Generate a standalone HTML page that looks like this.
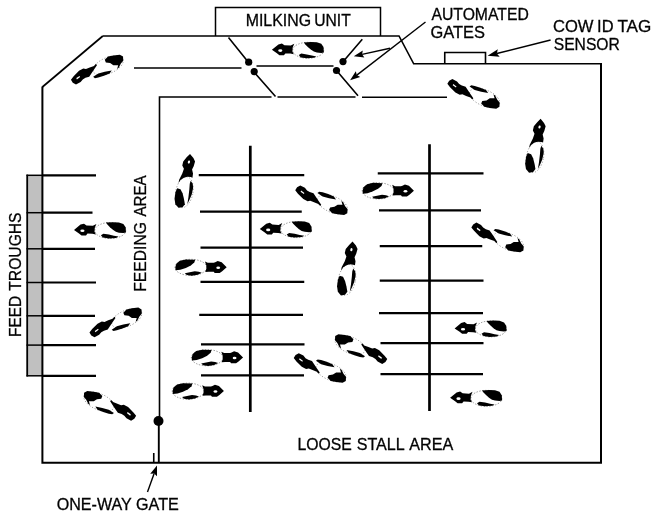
<!DOCTYPE html>
<html><head><meta charset="utf-8"><title>Barn layout</title>
<style>
html,body{margin:0;padding:0;background:#fff;}
svg{display:block}
text{font-family:"Liberation Sans",sans-serif;font-size:16px;fill:#000;stroke:#000;stroke-width:0.3px}
</style></head><body>
<svg width="652" height="515" viewBox="0 0 652 515">
<defs>
<g id="cowH">
 <ellipse cx="36.3" cy="0.5" rx="15.5" ry="8" fill="#fff" stroke="#000" stroke-width="0.6" stroke-dasharray="1.4 1.5" stroke-opacity="0.7"/>
 <path d="M0 0 L6.5 -5.4 L10 -6.3 L12.5 -4.5 L18.9 -4.2 L22.4 -6 L20.8 -2.2 L20.5 1.8 L21.9 4.4 L18.4 3.8 L13.5 3.6 L12 5.4 L7.5 5.4 L5 3.4 Z" fill="#000"/>
 <ellipse cx="8.4" cy="0.8" rx="2.1" ry="1.3" fill="#fff"/>
 <path d="M31.9 -7.4 L38.9 -7.8 L44.9 -7.6 L49.4 -6 L51.6 -2.7 L52 2.6 L49.4 3.1 L44.9 2.7 L41.9 1.8 L38.9 -0.2 L35.9 -2.8 L33.4 -5.4 Z" fill="#000"/>
 <path d="M26.9 5.3 L29.4 3.8 L34.9 4.6 L39.9 5.8 L44.5 6.6 L42 8 L34.9 8.5 L28.9 7.6 Z" fill="#000"/>
</g>
<g id="cowD"><ellipse cx="46.38" cy="23.41" rx="16" ry="8" transform="rotate(-23 46.38 23.41)" fill="#fff" stroke="#000" stroke-width="0.6" stroke-dasharray="1.2 1.8" stroke-opacity="0.6"/><path d="M9.13 37.58 L11.81 34.14 L17.18 28.77 L21.47 26.52 L24.16 27.06 L27.91 25.45 L32.21 23.84 L34.14 21.80 L35.11 23.08 L32.21 27.38 L29.53 31.35 L27.38 34.57 L23.62 35.75 L20.94 37.36 L18.79 39.94 L14.17 42.41 L10.95 40.58 Z" fill="#000"/><path d="M14.49 35.97 L17.72 33.82 L18.25 34.89 L15.03 37.36 Z" fill="#fff"/><path d="M42.95 17.72 L46.17 14.49 L51.54 13.42 L57.98 12.67 L61.20 14.49 L61.41 18.79 L59.05 21.47 L56.90 25.77 L55.29 26.84 L56.37 23.08 L51.54 23.08 L48.31 20.94 L44.02 20.40 Z" fill="#000"/><path d="M31.35 34.79 L36.50 31.35 L42.95 29.63 L49.92 28.34 L47.78 31.35 L42.09 33.71 L36.50 35.43 L33.07 36.07 Z" fill="#000"/></g>
<g id="cowV"><ellipse cx="24.18" cy="47.83" rx="8.6" ry="15.6" transform="rotate(11 24.18 47.83)" fill="#fff" stroke="#000" stroke-width="0.6" stroke-dasharray="1.2 1.8" stroke-opacity="0.6"/><path d="M29.89 9.51 L33.29 13.59 L34.92 16.98 L33.56 21.74 L31.93 25.14 L32.88 29.21 L32.34 33.29 L30.57 32.61 L27.17 32.34 L23.78 33.29 L20.38 35.60 L18.34 38.72 L19.02 35.33 L22.15 29.21 L23.78 24.46 L22.15 21.06 L23.10 16.98 L26.49 12.91 Z" fill="#000"/><ellipse cx="28.80" cy="17.66" rx="1.1" ry="1.6" transform="rotate(15 28.80 17.66)" fill="#fff"/><path d="M16.98 43.75 L20.38 44.84 L22.42 48.91 L23.78 54.35 L24.73 59.78 L22.42 62.77 L18.34 63.45 L15.22 59.78 L14.40 54.35 L15.35 47.55 Z" fill="#000"/><path d="M30.57 36.41 L32.61 39.40 L33.02 43.48 L31.52 50.27 L29.21 55.71 L27.17 59.78 L28.26 52.99 L29.21 44.84 L29.62 39.40 Z" fill="#000"/></g>
<g id="cowR"><ellipse cx="-35.89" cy="0.20" rx="15.8" ry="8.1" fill="#fff" stroke="#000" stroke-width="0.6" stroke-dasharray="1.4 1.5" stroke-opacity="0.7"/><path d="M0.00 0.00 L-4.99 -4.99 L-8.97 -6.18 L-11.47 -4.99 L-12.96 -4.49 L-18.94 -4.49 L-21.73 -5.78 L-20.44 -1.99 L-20.14 1.00 L-21.44 4.79 L-17.95 4.49 L-12.96 4.49 L-11.96 5.78 L-6.98 5.78 L-4.49 3.99 Z" fill="#000"/><ellipse cx="-8.47" cy="0.50" rx="1.9" ry="1.25" fill="#fff"/><path d="M-51.35 0.00 L-50.35 -3.49 L-46.86 -6.48 L-40.88 -7.78 L-31.41 -7.48 L-32.40 -4.69 L-35.89 -1.79 L-40.88 0.70 L-46.36 2.49 L-51.05 2.99 Z" fill="#000"/><path d="M-41.87 5.98 L-36.89 4.99 L-31.90 3.99 L-27.92 4.49 L-24.93 5.48 L-28.91 7.48 L-34.90 8.47 L-39.88 7.78 Z" fill="#000"/></g>
</defs>
<rect width="652" height="515" fill="#fff"/>
<rect x="27.3" y="175.3" width="15.1" height="200.5" fill="#c0c0c0"/>
<g fill="none" stroke="#000" stroke-width="1.6" stroke-linecap="butt">
<path d="M102.8 36 L399 36 L413.7 63.8 L601 63.8" stroke-width="1.6"/>
<path d="M102.8 36 L42.4 87" stroke-width="1.7"/>
<path d="M42.4 86.5 V462.8 H601 V63" stroke-width="2" stroke-linejoin="miter"/>
<path d="M215.5 36 V7.4 H380.5 V36" stroke-width="1.5"/>
<path d="M444.75 63.75 V52.5 H485.5 V63.75"/>
<path d="M134 68 H241.5 M256.5 66 H333.5"/>
<path d="M159.5 420 V97 H271.5 M277.5 97 H355.5 M362 97.3 H447"/>
<path d="M228.5 37.5 L248.2 62 M254 72 L275.5 96.5 M362.3 39.3 L343 61.7 M336.5 70.5 L358 95.8"/>
<path d="M158.8 421 V462" stroke-width="1.9"/><path d="M153.75 453 V462"/>
<path d="M27.2 174.6 V376.5" stroke-width="1.8"/>
<line stroke-width="1.5" x1="26.5" y1="175.3" x2="42.4" y2="175.3"/><line stroke-width="2.2" x1="42.4" y1="175.3" x2="96" y2="175.3"/><line stroke-width="1.5" x1="26.5" y1="212.7" x2="42.4" y2="212.7"/><line stroke-width="2.2" x1="42.4" y1="212.7" x2="92.5" y2="212.7"/><line stroke-width="1.5" x1="26.5" y1="248.8" x2="42.4" y2="248.8"/><line stroke-width="2.2" x1="42.4" y1="248.8" x2="95" y2="248.8"/><line stroke-width="1.5" x1="26.5" y1="282.5" x2="42.4" y2="282.5"/><line stroke-width="2.2" x1="42.4" y1="282.5" x2="96" y2="282.5"/><line stroke-width="1.5" x1="26.5" y1="315.8" x2="42.4" y2="315.8"/><line stroke-width="2.2" x1="42.4" y1="315.8" x2="95" y2="315.8"/><line stroke-width="1.5" x1="26.5" y1="345.1" x2="42.4" y2="345.1"/><line stroke-width="2.2" x1="42.4" y1="345.1" x2="96" y2="345.1"/><line stroke-width="1.5" x1="26.5" y1="375.8" x2="42.4" y2="375.8"/><line stroke-width="2.2" x1="42.4" y1="375.8" x2="96" y2="375.8"/>
</g>
<g fill="none" stroke="#000" stroke-width="2.4">
<path d="M250.3 145.8 V412 M429.5 144.3 V411" stroke-width="2.7"/>
<line x1="198.75" y1="175.1" x2="304.25" y2="175.1"/><line x1="200" y1="211.6" x2="301.75" y2="211.6"/><line x1="200.5" y1="247.6" x2="303" y2="247.6"/><line x1="200.5" y1="281.85" x2="304.25" y2="281.85"/><line x1="199.25" y1="314.85" x2="303" y2="314.85"/><line x1="201" y1="344.35" x2="304.5" y2="344.35"/><line x1="201" y1="375.35" x2="304" y2="375.35"/><line x1="377.75" y1="173.35" x2="483.5" y2="173.35"/><line x1="379" y1="210.35" x2="481" y2="210.35"/><line x1="379.75" y1="246.1" x2="482.25" y2="246.1"/><line x1="379.75" y1="280.6" x2="483.5" y2="280.6"/><line x1="379" y1="313.1" x2="483" y2="313.1"/><line x1="380.5" y1="343.1" x2="483.5" y2="343.1"/><line x1="380.5" y1="374.1" x2="483" y2="374.1"/>
</g>
<g fill="#000">
<circle cx="248.7" cy="62.2" r="3.6"/><circle cx="254.2" cy="71.6" r="3.6"/>
<circle cx="343" cy="61.6" r="3.6"/><circle cx="336.5" cy="70.5" r="3.6"/>
<circle cx="158.5" cy="421" r="5"/>
</g>
<path d="M425.50 22.00 L356.82 75.10" stroke="#000" stroke-width="1.4" fill="none"/><path d="M350.10 80.30 L355.81 71.34 L356.82 75.10 L360.21 77.03 Z" fill="#000"/><path d="M390.00 48.20 L362.10 54.37" stroke="#000" stroke-width="1.4" fill="none"/><path d="M353.80 56.20 L362.79 50.53 L362.10 54.37 L364.34 57.56 Z" fill="#000"/><path d="M550.60 40.00 L496.81 53.49" stroke="#000" stroke-width="1.4" fill="none"/><path d="M487.60 55.80 L497.83 49.32 L496.81 53.49 L499.68 56.69 Z" fill="#000"/><path d="M147.50 492.00 L154.13 473.50" stroke="#000" stroke-width="1.4" fill="none"/><path d="M157.00 465.50 L157.01 476.13 L154.13 473.50 L150.24 473.70 Z" fill="#000"/>
<g opacity="0.995">
<text transform="translate(245.70 25.8) scale(1 0.98)" textLength="65.34" lengthAdjust="spacingAndGlyphs">MILKING</text>
<text transform="translate(314.16 25.8) scale(1 0.98)" textLength="36.54" lengthAdjust="spacingAndGlyphs">UNIT</text>
<text transform="translate(431.44 20.2) scale(1 0.98)" textLength="97.35" lengthAdjust="spacingAndGlyphs">AUTOMATED</text>
<text transform="translate(430.41 37.8) scale(1 0.98)" textLength="54.48" lengthAdjust="spacingAndGlyphs">GATES</text>
<text transform="translate(552.97 31.8) scale(1 0.98)" textLength="40.53" lengthAdjust="spacingAndGlyphs">COW</text>
<text transform="translate(597.10 31.8) scale(1 0.98)" textLength="16.47" lengthAdjust="spacingAndGlyphs">ID</text>
<text transform="translate(617.41 31.8) scale(1 0.98)" textLength="33.92" lengthAdjust="spacingAndGlyphs">TAG</text>
<text transform="translate(553.74 49.8) scale(1 0.98)" textLength="66.08" lengthAdjust="spacingAndGlyphs">SENSOR</text>
<text transform="translate(297.41 450.3) scale(1 0.98)" textLength="54.34" lengthAdjust="spacingAndGlyphs">LOOSE</text>
<text transform="translate(356.67 450.3) scale(1 0.98)" textLength="47.95" lengthAdjust="spacingAndGlyphs">STALL</text>
<text transform="translate(409.31 450.3) scale(1 0.98)" textLength="44.00" lengthAdjust="spacingAndGlyphs">AREA</text>
<text transform="translate(56.69 509.7) scale(1 0.98)" textLength="75.03" lengthAdjust="spacingAndGlyphs">ONE-WAY</text>
<text transform="translate(135.97 509.7) scale(1 0.98)" textLength="42.82" lengthAdjust="spacingAndGlyphs">GATE</text>
<text transform="translate(21.0 336.94) rotate(-90)" textLength="41.13" lengthAdjust="spacingAndGlyphs">FEED</text>
<text transform="translate(21.0 290.71) rotate(-90)" textLength="78.26" lengthAdjust="spacingAndGlyphs">TROUGHS</text>
<text transform="translate(145.7 291.71) rotate(-90)" textLength="69.66" lengthAdjust="spacingAndGlyphs">FEEDING</text>
<text transform="translate(145.7 216.46) rotate(-90)" textLength="40.92" lengthAdjust="spacingAndGlyphs">AREA</text>
</g>
<use href="#cowD" transform="translate(97.10 68.90) scale(1 1) translate(-35.27 -26.84)"/>
<use href="#cowH" transform="translate(297.90 49.80) scale(1 1) translate(-26.00 0.00)"/>
<use href="#cowD" transform="translate(473.50 94.50) scale(1 -1) translate(-35.27 -26.84)"/>
<use href="#cowV" transform="translate(534.85 145.80) scale(1 1) translate(-24.12 -36.48)"/>
<use href="#cowV" transform="translate(184.25 180.88) scale(1 1) translate(-24.12 -36.48)"/>
<use href="#cowD" transform="translate(321.38 200.95) scale(1 -1) translate(-35.27 -26.84)"/>
<use href="#cowR" transform="translate(388.12 190.65) scale(1 1) translate(25.80 0.00)"/>
<use href="#cowH" transform="translate(100.00 230.00) scale(1 1) translate(-26.00 0.00)"/>
<use href="#cowH" transform="translate(285.80 229.10) scale(1 1) translate(-26.00 0.00)"/>
<use href="#cowD" transform="translate(497.50 238.12) scale(1 -1) translate(-35.27 -26.84)"/>
<use href="#cowV" transform="translate(346.75 268.50) scale(1 1) translate(-24.12 -36.48)"/>
<use href="#cowR" transform="translate(200.88 267.20) scale(1 1) translate(25.80 0.00)"/>
<use href="#cowD" transform="translate(115.62 321.75) scale(1 1) translate(-35.27 -26.84)"/>
<use href="#cowH" transform="translate(480.62 328.38) scale(1 1) translate(-26.00 0.00)"/>
<use href="#cowD" transform="translate(361.12 348.38) scale(-1 1) translate(-35.27 -26.84)"/>
<use href="#cowR" transform="translate(217.25 357.50) scale(1 1) translate(25.80 0.00)"/>
<use href="#cowD" transform="translate(319.88 368.70) scale(1 -1) translate(-35.27 -26.84)"/>
<use href="#cowR" transform="translate(198.12 391.00) scale(1 1) translate(25.80 0.00)"/>
<use href="#cowD" transform="translate(110.00 405.12) scale(-1 1) translate(-35.27 -26.84)"/>
<use href="#cowH" transform="translate(476.12 397.85) scale(1 1) translate(-26.00 0.00)"/>
</svg>
</body></html>
